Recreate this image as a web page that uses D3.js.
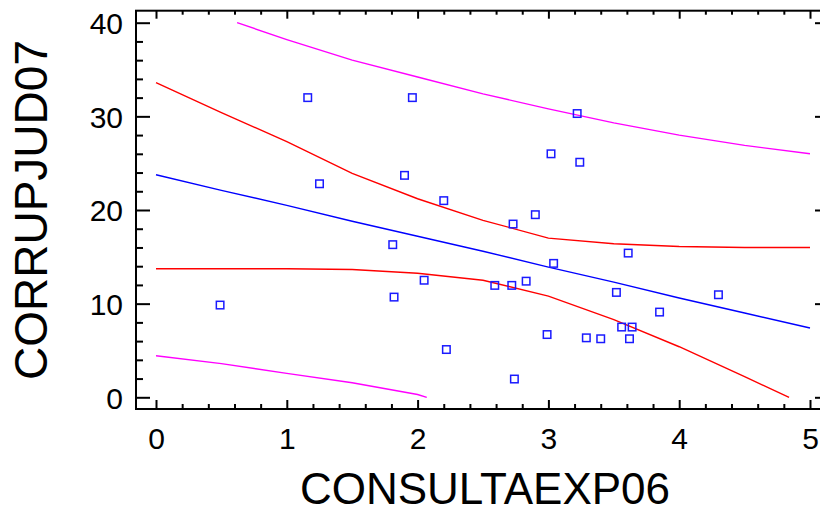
<!DOCTYPE html>
<html>
<head>
<meta charset="utf-8">
<script src="https://cdn.jsdelivr.net/npm/d3@7"></script>
<style>
  body { margin: 0; background: #fff; }
  svg { display: block; font-family: 'Liberation Sans', Arial, sans-serif; }
  .axis text { font-size: 30px; fill: #000; }
  .axis line { stroke: #000; stroke-width: 2px; }
</style>
</head>
<body>
<div id="chart"></div>
<script>
// observations
const obsX = [1.16, 1.96, 1.25, 1.90, 2.20, 3.22, 3.02, 3.24, 2.90, 1.81,
  2.05, 1.82, 0.49, 2.22, 2.73, 3.61, 3.04, 2.59, 2.72, 2.83,
  3.52, 4.30, 3.85, 3.56, 3.64, 2.99, 3.29, 3.40, 3.62, 2.74];
const obsY = [32.0, 32.0, 22.8, 23.7, 21.0, 30.3, 26.0, 25.1, 19.5, 16.3,
  12.5, 10.7, 9.85, 5.1, 18.5, 15.4, 14.3, 11.95, 11.95, 12.4,
  11.2, 10.95, 9.1, 7.5, 7.5, 6.7, 6.35, 6.25, 6.25, 1.95];

// fitted line
const fitX = [0, 0.5, 1, 1.5, 2, 2.5, 3, 3.5, 4, 4.5, 5];
const fitY = [23.76, 22.1, 20.5, 18.8, 17.2, 15.6, 13.9, 12.3, 10.6, 9.0, 7.4];

// confidence limits for the mean
const confUpX = [0, 0.5, 1, 1.5, 2, 2.5, 3, 3.5, 4, 4.5, 5];
const confUpY = [33.6, 30.4, 27.3, 23.9, 21.2, 18.9, 17.0, 16.4, 16.1, 16.0, 16.0];
const confLoX = [0, 0.5, 1, 1.5, 2, 2.5, 3, 3.5, 4, 4.5, 4.84];
const confLoY = [13.73, 13.73, 13.73, 13.65, 13.25, 12.5, 10.8, 8.3, 5.4, 2.2, 0];

// prediction limits
const predUpX = [0.62, 1, 1.5, 2, 2.5, 3, 3.5, 4, 4.5, 5];
const predUpY = [40.0, 38.2, 36.0, 34.2, 32.4, 30.8, 29.3, 28.0, 26.9, 26.0];
const predLoX = [0, 0.5, 1, 1.5, 2, 2.07];
const predLoY = [4.44, 3.6, 2.56, 1.55, 0.3, 0];

const xTicks = [0, 1, 2, 3, 4, 5];
const yTicks = [0, 10, 20, 30, 40];

const width = 820;
const height = 514;

const x = d3.scaleLinear().domain([0, 5]).range([156, 810]);
const y = d3.scaleLinear().domain([0, 40]).range([397.3, 22.7]);

const frame = { left: 136, top: 10.7, right: 829, bottom: 409 };

const minorX = d3.range(-0.2, 5.21, 0.2).map(v => +v.toFixed(1)).filter(v => !xTicks.includes(v) && x(v) > frame.left);
const minorY = d3.range(0, 41, 2).filter(v => !yTicks.includes(v));

const svg = d3.select('#chart')
  .append('svg')
  .attr('width', width)
  .attr('height', height);

svg.append('clipPath')
  .attr('id', 'plot-clip')
  .append('rect')
  .attr('x', frame.left)
  .attr('y', frame.top)
  .attr('width', frame.right - frame.left)
  .attr('height', frame.bottom - frame.top);

// axes: ticks point inward on all four sides
const addAxis = (axis, tx, ty) => {
  const g = svg.append('g')
    .attr('class', 'axis')
    .attr('transform', `translate(${tx},${ty})`)
    .call(axis);
  g.select('.domain').remove();
  return g;
};

addAxis(d3.axisBottom(x).tickValues(xTicks).tickSizeInner(-9).tickSizeOuter(0)
  .tickPadding(18).tickFormat(d3.format('d')), 0, frame.bottom)
  .selectAll('text').attr('dy', '0.72em');
addAxis(d3.axisBottom(x).tickValues(minorX).tickSizeInner(-5).tickSizeOuter(0).tickFormat(''), 0, frame.bottom);
addAxis(d3.axisTop(x).tickValues(xTicks).tickSizeInner(-8).tickSizeOuter(0).tickFormat(''), 0, frame.top);
addAxis(d3.axisTop(x).tickValues(minorX).tickSizeInner(-4).tickSizeOuter(0).tickFormat(''), 0, frame.top);

addAxis(d3.axisLeft(y).tickValues(yTicks).tickSizeInner(-14).tickSizeOuter(0)
  .tickPadding(13).tickFormat(d3.format('d')), frame.left, 0)
  .selectAll('text').attr('dy', '0.36em');
addAxis(d3.axisLeft(y).tickValues(minorY).tickSizeInner(-7).tickSizeOuter(0).tickFormat(''), frame.left, 0);
addAxis(d3.axisRight(y).tickValues(yTicks).tickSizeInner(-14).tickSizeOuter(0).tickFormat(''), frame.right, 0);
addAxis(d3.axisRight(y).tickValues(minorY).tickSizeInner(-7).tickSizeOuter(0).tickFormat(''), frame.right, 0);

svg.append('rect')
  .attr('x', frame.left)
  .attr('y', frame.top)
  .attr('width', frame.right - frame.left)
  .attr('height', frame.bottom - frame.top)
  .attr('fill', 'none')
  .attr('stroke', '#000')
  .attr('stroke-width', 2);

// curves
const line = d3.line()
  .x(d => x(d[0]))
  .y(d => y(d[1]));

const curves = [
  { xs: predUpX, ys: predUpY, color: '#ff00ff' },
  { xs: predLoX, ys: predLoY, color: '#ff00ff' },
  { xs: confUpX, ys: confUpY, color: '#ff0000' },
  { xs: confLoX, ys: confLoY, color: '#ff0000' },
  { xs: fitX, ys: fitY, color: '#0000ff' }
];

const plot = svg.append('g')
  .attr('clip-path', 'url(#plot-clip)');

plot.selectAll('.curve')
  .data(curves)
  .enter().append('path')
    .attr('class', 'curve')
    .attr('fill', 'none')
    .attr('stroke', d => d.color)
    .attr('stroke-width', 1.4)
    .attr('d', d => line(d.xs.map((v, i) => [v, d.ys[i]])));

// observed points
const pts = obsX.map((v, i) => ({ x: v, y: obsY[i] }));
const s = 7.5;

plot.selectAll('.pt')
  .data(pts)
  .enter().append('rect')
    .attr('class', 'pt')
    .attr('x', d => x(d.x) - s / 2)
    .attr('y', d => y(d.y) - s / 2)
    .attr('width', s)
    .attr('height', s)
    .attr('fill', 'none')
    .attr('stroke', '#1a1aff')
    .attr('stroke-width', 1.5);

// titles
svg.append('text')
  .attr('x', 485)
  .attr('y', 504)
  .attr('text-anchor', 'middle')
  .style('font-size', '44px')
  .text('CONSULTAEXP06');

svg.append('text')
  .attr('transform', 'translate(47,210) rotate(-90)')
  .attr('text-anchor', 'middle')
  .style('font-size', '46px')
  .text('CORRUPJUD07');
</script>
</body>
</html>
